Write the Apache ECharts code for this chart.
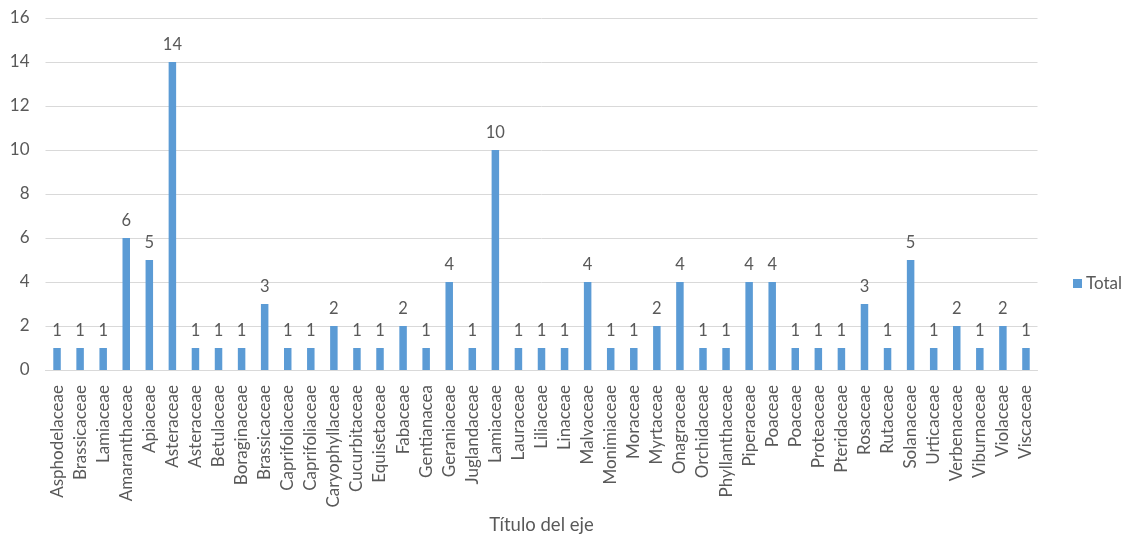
<!DOCTYPE html>
<html>
<head>
<meta charset="utf-8">
<script src="https://cdn.jsdelivr.net/npm/echarts@6/dist/echarts.min.js"></script>
<style>
  html, body { margin: 0; padding: 0; background: #fff; }
  #chart { width: 1123px; height: 536px; }
</style>
</head>
<body>
<div id="chart"></div>
<script>
// Plant families and number of species recorded in each
const families = [
  'Asphodelaceae', 'Brassicaceae', 'Lamiaceae', 'Amaranthaceae', 'Apiaceae',
  'Asteraceae', 'Asteraceae', 'Betulaceae', 'Boraginaceae', 'Brassicaceae',
  'Caprifoliaceae', 'Caprifoliaceae', 'Caryophyllaceae', 'Cucurbitaceae', 'Equisetaceae',
  'Fabaceae', 'Gentianacea', 'Geraniaceae', 'Juglandaceae', 'Lamiaceae',
  'Lauraceae', 'Liliaceae', 'Linaceae', 'Malvaceae', 'Monimiaceae',
  'Moraceae', 'Myrtaceae', 'Onagraceae', 'Orchidaceae', 'Phyllanthaceae',
  'Piperaceae', 'Poaceae', 'Poaceae', 'Proteaceae', 'Pteridaceae',
  'Rosaceae', 'Rutaceae', 'Solanaceae', 'Urticaceae', 'Verbenaceae',
  'Viburnaceae', 'Violaceae', 'Viscaceae'
];
const totals = [
  1, 1, 1, 6, 5,
  14, 1, 1, 1, 3,
  1, 1, 2, 1, 1,
  2, 1, 4, 1, 10,
  1, 1, 1, 4, 1,
  1, 2, 4, 1, 1,
  4, 4, 1, 1, 1,
  3, 1, 5, 1, 2,
  1, 2, 1
];
const seriesName = 'Total';
const axisTitle = 'Título del eje';

const FONT = 'Lato, "Open Sans", sans-serif';
const TXT = '#595959';

const chart = echarts.init(document.getElementById('chart'), null, { renderer: 'canvas' });
chart.setOption({
  animation: false,
  textStyle: { fontFamily: FONT },
  grid: {
    left: 45.5, right: 85.5, top: 18, bottom: 166,
    containLabel: false, outerBoundsMode: 'none'
  },
  legend: {
    data: [seriesName],
    orient: 'vertical',
    left: 1068, top: 270,
    itemWidth: 9, itemHeight: 9, itemGap: 6,
    icon: 'rect',
    textStyle: { color: TXT, fontSize: 17, fontFamily: FONT, padding: [0, 0, 0, -1] }
  },
  xAxis: {
    type: 'category',
    data: families,
    name: axisTitle,
    nameLocation: 'middle',
    nameGap: 146,
    nameTextStyle: { color: TXT, fontSize: 18.5, fontFamily: FONT },
    axisLine: { lineStyle: { color: '#d9d9d9', width: 1 } },
    axisTick: { show: false },
    axisLabel: { rotate: 90, interval: 0, color: TXT, fontSize: 17, fontFamily: FONT, margin: 15 }
  },
  yAxis: {
    type: 'value',
    min: 0, max: 16, interval: 2,
    axisLine: { show: false },
    axisTick: { show: false },
    axisLabel: { color: TXT, fontSize: 17, fontFamily: FONT, margin: 16 },
    splitLine: { lineStyle: { color: '#d9d9d9', width: 1 } }
  },
  series: [{
    name: seriesName,
    type: 'bar',
    data: totals,
    barWidth: 7.5,
    itemStyle: { color: '#5b9bd5' },
    label: {
      show: true, position: 'top', distance: 9,
      color: TXT, fontSize: 16.5, fontFamily: FONT
    }
  }]
});
</script>
</body>
</html>
